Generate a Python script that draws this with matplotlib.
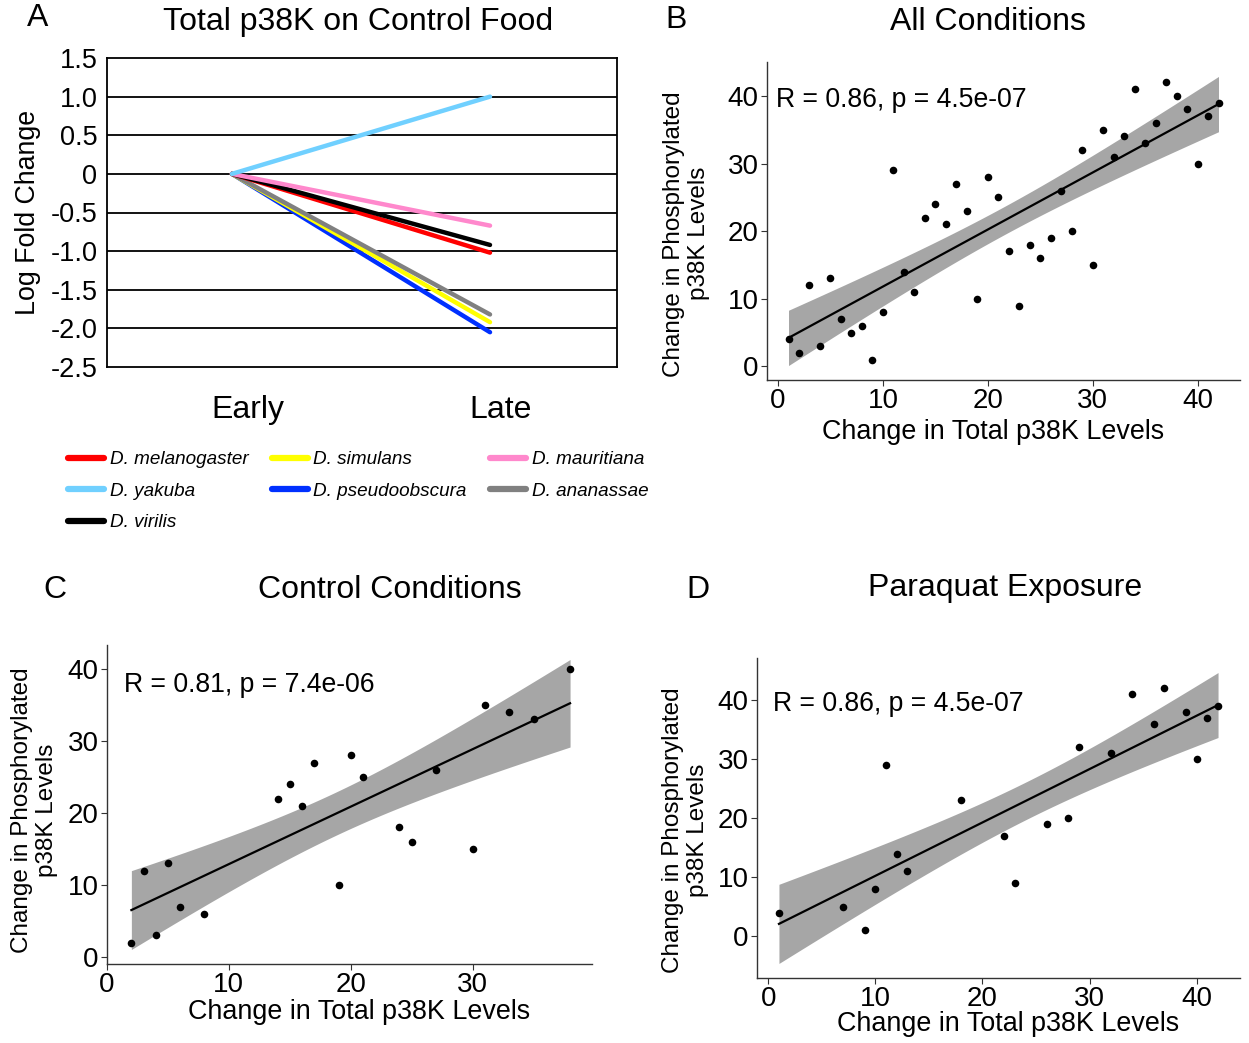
import numpy as np
import matplotlib
matplotlib.use("Agg")
from matplotlib import pyplot as plt
from matplotlib.lines import Line2D

plt.rcParams['font.family'] = ['Liberation Sans', 'DejaVu Sans']

# ---- panel A data: log fold change early -> late
timepoints = ["Early", "Late"]
species = ["D. melanogaster", "D. simulans", "D. mauritiana", "D. yakuba",
           "D. pseudoobscura", "D. ananassae", "D. virilis"]
late_lfc = [-1.02, -1.92, -0.67, 1.0, -2.05, -1.82, -0.92]
species_colors = ["#ff0000", "#ffff00", "#ff88cc", "#70d0ff", "#0030ff", "#808080", "#000000"]
draw_order = [4, 1, 5, 0, 6, 2, 3]

# ---- panels C / D data (B = all conditions combined)
control_total = [2, 3, 4, 5, 6, 8, 14, 15, 16, 17, 19, 20, 21, 24, 25, 27, 30, 31, 33, 35, 38]
control_phos = [2, 12, 3, 13, 7, 6, 22, 24, 21, 27, 10, 28, 25, 18, 16, 26, 15, 35, 34, 33, 40]
paraquat_total = [1, 7, 9, 10, 11, 12, 13, 18, 22, 23, 26, 28, 29, 32, 34, 36, 37, 39, 40, 41, 42]
paraquat_phos = [4, 5, 1, 8, 29, 14, 11, 23, 17, 9, 19, 20, 32, 31, 41, 36, 42, 38, 30, 37, 39]
all_total = control_total + paraquat_total
all_phos = control_phos + paraquat_phos

# 95% t quantiles (df = n - 2)
T_CRIT = {42: 2.021, 21: 2.093}

W, H = 1249, 1043
fig = plt.figure(figsize=(W / 100, H / 100), dpi=100)


def fax(left, top, right, bottom):
    return fig.add_axes([left / W, 1 - bottom / H, (right - left) / W, (bottom - top) / H])


# ---------------- panel A
ax = fax(107, 58, 617, 367)
for i in draw_order:
    ax.plot([1, 2], [0, late_lfc[i]], color=species_colors[i], lw=3.2, solid_capstyle="round")
ax.set_xlim(0.516, 2.492)
ax.set_ylim(-2.5, 1.5)
yt = np.arange(-2.5, 1.51, 0.5)
ax.set_yticks(yt)
ax.set_yticklabels(["0" if abs(v) < 1e-9 else "%.1f" % v for v in yt], fontsize=19.5)
for v in yt[1:-1]:
    ax.axhline(v, color="black", lw=1.3, zorder=0)
ax.set_xticks([1.06, 2.04])
ax.set_xticklabels(timepoints, fontsize=23)
ax.tick_params(axis="both", length=0)
ax.tick_params(axis="y", pad=7)
ax.tick_params(axis="x", pad=20)
for s in ax.spines.values():
    s.set_linewidth(1.3)
ax.set_ylabel("Log Fold Change", fontsize=19.3)
ax.yaxis.set_label_coords((28 - 107) / 510, 0.5)
ax.yaxis.label.set_va("center")

handles = []
labels = []
for i in [0, 3, 6, 1, 4, 2, 5]:
    handles.append(Line2D([], [], color=species_colors[i], lw=4.5, solid_capstyle="round"))
    labels.append(species[i])
fig.legend(handles, labels, loc="upper left", bbox_to_anchor=(68 / W, 1 - 451 / H), ncol=3,
           frameon=False, prop={"style": "italic", "size": 13.6}, handlelength=1.9,
           handletextpad=0.3, labelspacing=0.76, columnspacing=1.25, borderpad=0,
           borderaxespad=0)


# ---------------- scatter panels
def scatter_panel(ax, x, y, label):
    x = np.array(x, float)
    y = np.array(y, float)
    n = len(x)
    slope, icpt = np.polyfit(x, y, 1)
    xs = np.linspace(x.min(), x.max(), 100)
    fit = icpt + slope * xs
    resid = y - (icpt + slope * x)
    s = np.sqrt(np.sum(resid ** 2) / (n - 2))
    se = s * np.sqrt(1 / n + (xs - x.mean()) ** 2 / np.sum((x - x.mean()) ** 2))
    band = T_CRIT[n] * se
    ax.fill_between(xs, fit - band, fit + band, color="#a6a6a6", lw=0, zorder=1)
    ax.plot(xs, fit, color="black", lw=1.6, zorder=2)
    ax.scatter(x, y, s=30, color="black", zorder=3, linewidths=0)
    ax.spines["top"].set_visible(False)
    ax.spines["right"].set_visible(False)
    for sp in ["left", "bottom"]:
        ax.spines[sp].set_color("#333333")
        ax.spines[sp].set_linewidth(1.0)
    ax.set_yticks([0, 10, 20, 30, 40])
    ax.set_xticks([0, 10, 20, 30, 40] if x.max() > 40 else [0, 10, 20, 30])
    ax.tick_params(labelsize=20, length=4, color="#333333", pad=2)
    ax.set_xlabel("Change in Total p38K Levels", fontsize=19.4)
    ax.set_ylabel("Change in Phosphorylated\np38K Levels", fontsize=17.5, linespacing=1.2)
    ax.xaxis.label.set_va("center")
    ax.yaxis.label.set_va("center")
    ax.text(0.02, 0.88, label, transform=ax.transAxes, fontsize=19.2, va="center")


axB = fax(767, 62, 1240, 380)
scatter_panel(axB, all_total, all_phos, "R = 0.86, p = 4.5e-07")
axB.xaxis.set_label_coords(0.478, -0.164)
axB.yaxis.set_label_coords(-0.17, 0.46)

axC = fax(107, 645, 592, 964)
scatter_panel(axC, control_total, control_phos, "R = 0.81, p = 7.4e-06")
axC.texts[0].set_position((0.035, 0.875))
axC.xaxis.set_label_coords(0.52, -0.15)
axC.yaxis.set_label_coords(-0.15, 0.483)

axD = fax(757, 658, 1240, 978)
scatter_panel(axD, paraquat_total, paraquat_phos, "R = 0.86, p = 4.5e-07")
axD.texts[0].set_position((0.033, 0.855))
axD.xaxis.set_label_coords(0.52, -0.144)
axD.yaxis.set_label_coords(-0.148, 0.4625)

# titles and panel letters
fig.text(358 / W, 1 - 22 / H, "Total p38K on Control Food", fontsize=23, ha="center", va="center")
fig.text(988 / W, 1 - 22 / H, "All Conditions", fontsize=23, ha="center", va="center")
fig.text(390 / W, 1 - 590 / H, "Control Conditions", fontsize=23, ha="center", va="center")
fig.text(1005 / W, 1 - 588 / H, "Paraquat Exposure", fontsize=23, ha="center", va="center")
for letter, px, py in [("A", 38, 18), ("B", 676, 20), ("C", 55, 590), ("D", 698, 590)]:
    fig.text(px / W, 1 - py / H, letter, fontsize=23, ha="center", va="center")

fig.savefig("out.png", dpi=100)
